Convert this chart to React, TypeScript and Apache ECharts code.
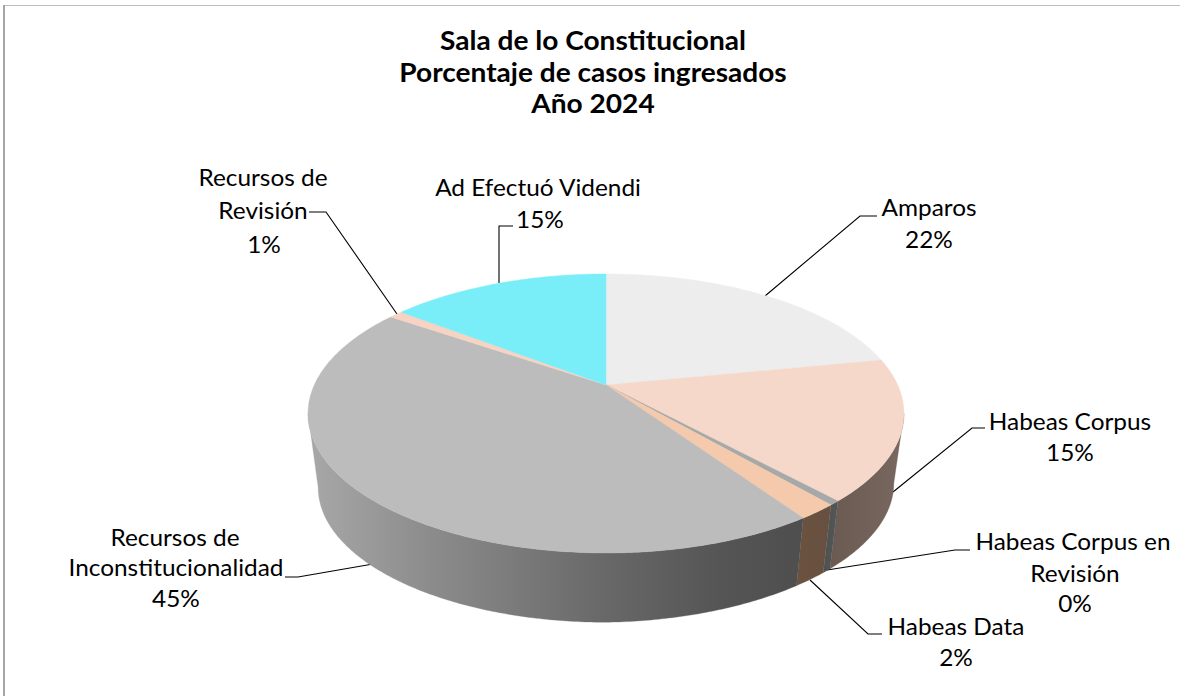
import React, { useEffect, useRef } from "react";
import * as echarts from "echarts";

const categories = [
  "Amparos",
  "Habeas Corpus",
  "Habeas Corpus en Revisión",
  "Habeas Data",
  "Recursos de Inconstitucionalidad",
  "Recursos de Revisión",
  "Ad Efectuó Videndi",
];
// Slice sizes as measured on the drawn pie
const sliceValues = [21.9, 16.3, 0.5, 1.8, 44.1, 0.9, 14.5];
const percentLabels = ["22%", "15%", "0%", "2%", "45%", "1%", "15%"];
const titleLines = ["Sala de lo Constitucional", "Porcentaje de casos ingresados", "Año 2024"];

const topColors = ["#ededed", "#f5d8ca", "#a7a8a8", "#f4c9ac", "#bcbcbc", "#f6d3c2", "#7aeef8"];
const grayWall: [number, string][] = [
  [308, "#a8a8a8"],
  [420, "#8e8e8e"],
  [606, "#686868"],
  [720, "#555555"],
  [805, "#4e4e4e"],
];
const wallStops: [number, string][][] = [
  [[830, "#6a5a52"], [900, "#78675e"]],
  [[830, "#6a5a52"], [900, "#78675e"]],
  [[820, "#4d5050"], [840, "#545757"]],
  [[800, "#6b5240"], [830, "#66503f"]],
  grayWall,
  grayWall,
  grayWall,
];

// Projection of the tilted disc
const CX = 606, CY = 385, A = 133.7, B = 291.7, K = -0.204;
const DEPTH = 75, BOTTOM_SCALE = 0.966, BOTTOM_RIGHT_LIFT = 0.015;
const V_SILHOUETTE = Math.acos(-K);

function project(theta: number, scale: number, dy: number): number[] {
  const u = Math.sin(theta), v = -Math.cos(theta);
  const d = 1 + K * v;
  const X = (scale * B * u) / d;
  const lift = dy > 0 ? BOTTOM_RIGHT_LIFT * Math.max(X, 0) : 0;
  return [CX + X, CY + dy - lift + (scale * A * v) / d];
}
function arc(a0: number, a1: number, scale: number, dy: number): number[][] {
  const n = Math.max(2, Math.ceil(Math.abs(a1 - a0) / 0.01));
  const pts: number[][] = [];
  for (let i = 0; i <= n; i++) pts.push(project(a0 + ((a1 - a0) * i) / n, scale, dy));
  return pts;
}
const total = sliceValues.reduce((s, v) => s + v, 0);
function sliceAngles(i: number): [number, number] {
  let c = 0;
  for (let k = 0; k < i; k++) c += sliceValues[k];
  return [(c / total) * 2 * Math.PI, ((c + sliceValues[i]) / total) * 2 * Math.PI];
}

function renderTop(params: any, api: any) {
  const [a0, a1] = sliceAngles(params.dataIndex);
  const fill = topColors[params.dataIndex];
  return {
    type: "polygon",
    shape: { points: [[CX, CY], ...arc(a0, a1, 1, 0)] },
    style: { fill, stroke: fill, lineWidth: 0.4 },
  };
}
function renderWall(params: any, api: any) {
  const i = params.dataIndex;
  let [a0, a1] = sliceAngles(i);
  a0 = Math.max(a0, Math.PI - V_SILHOUETTE);
  a1 = Math.min(a1, Math.PI + V_SILHOUETTE);
  if (a1 <= a0) return null;
  const stops = wallStops[i];
  const x0 = stops[0][0], x1 = stops[stops.length - 1][0];
  const fill = new echarts.graphic.LinearGradient(
    x0, 0, x1, 0,
    stops.map(([x, color]) => ({ offset: (x - x0) / (x1 - x0), color })),
    true
  );
  return {
    type: "polygon",
    shape: { points: [...arc(a0, a1, 1, 0), ...arc(a1, a0, BOTTOM_SCALE, DEPTH)] },
    style: { fill, stroke: fill, lineWidth: 0.3 },
  };
}

const FONT = "Lato";
const TEXT = "#000000";
function label(text: string, x: number, y: number) {
  return {
    type: "text",
    x, y,
    scaleX: 1.06,
    style: { text, x: 0, y: 0, align: "center", verticalAlign: "middle", fontFamily: FONT, fontSize: 23, fill: TEXT },
  };
}
function titleLine(text: string, y: number) {
  return {
    type: "text",
    x: 593, y,
    scaleX: 1.08,
    style: { text, x: 0, y: 0, align: "center", verticalAlign: "middle", fontFamily: FONT, fontWeight: "bold", fontSize: 26, fill: TEXT },
  };
}
function leader(points: number[][]) {
  return { type: "polyline", shape: { points }, style: { stroke: "#000000", lineWidth: 1.1, fill: "none" } };
}

export default function App() {
  const ref = useRef<HTMLDivElement>(null);
  useEffect(() => {
    const chart = echarts.init(ref.current!, null, { renderer: "svg" });
    const seriesData = categories.map((name, i) => ({ name, value: sliceValues[i] }));
    chart.setOption({
      animation: false,
      backgroundColor: "#ffffff",
      series: [
        { type: "custom", coordinateSystem: "none", renderItem: renderWall, data: seriesData, z: 2, silent: true },
        { type: "custom", coordinateSystem: "none", renderItem: renderTop, data: seriesData, z: 3, silent: true },
      ],
      graphic: [
        { type: "rect", shape: { x: 3, y: 5, width: 1177, height: 1 }, style: { fill: "#bdbdbd" }, silent: true },
        { type: "rect", shape: { x: 3, y: 5, width: 2, height: 691 }, style: { fill: "#a6a6a6" }, silent: true },
        leader([[309, 212], [326, 212], [397, 314]]),
        leader([[513, 226], [499, 226], [499, 283]]),
        leader([[877, 216], [860, 216], [765, 296]]),
        leader([[985, 428], [972, 428], [893, 492]]),
        leader([[970, 550], [955, 550], [827, 570]]),
        leader([[882, 634], [868, 634], [810, 580]]),
        leader([[285, 577], [298, 577], [373, 564]]),
        titleLine(titleLines[0], 40),
        titleLine(titleLines[1], 72),
        titleLine(titleLines[2], 103),
        label("Recursos de", 263, 177),
        label("Revisión", 263, 210),
        label(percentLabels[5], 264, 244),
        label(categories[6], 538, 187),
        label(percentLabels[6], 540, 219),
        label(categories[0], 929, 207),
        label(percentLabels[0], 929, 239),
        label(categories[1], 1070, 421),
        label(percentLabels[1], 1070, 452),
        label("Habeas Corpus en", 1073, 541),
        label("Revisión", 1075, 573),
        label(percentLabels[2], 1075, 603),
        label(categories[3], 956, 626),
        label(percentLabels[3], 956, 657),
        label("Recursos de", 175, 537),
        label("Inconstitucionalidad", 176, 567),
        label(percentLabels[4], 176, 598),
      ],
    });
    return () => chart.dispose();
  }, []);
  return <div ref={ref} style={{ position: "absolute", left: 0, top: 0, width: 1180, height: 696 }} />;
}
